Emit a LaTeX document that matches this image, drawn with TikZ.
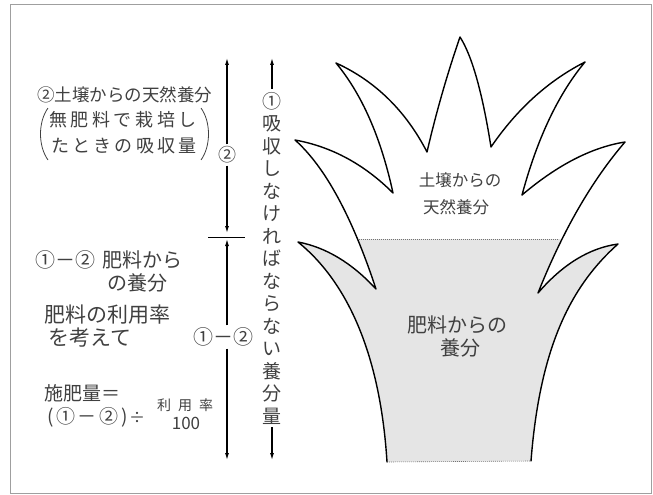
\documentclass[tikz,border=0pt]{standalone}
\usepackage{fontspec}
\newfontfamily\jp{Noto Sans CJK JP}
\usetikzlibrary{arrows.meta}
\newcommand\jpf[1]{\jp\fontsize{#1}{#1}\selectfont}
\begin{document}
\begin{tikzpicture}[x=1pt,y=-1pt,
  txt/.style={text=black!75, inner sep=0pt},
  dimline/.style={line width=1.1pt, black, -{Latex[length=7pt,width=4pt]}},
  leaf/.style={line width=1.4pt, line join=round, line cap=round},
  edge/.style={black!55, line width=0.6pt, dash pattern=on 1pt off 1pt},
  frame/.style={gray!75, line width=1pt}]
\useasboundingbox (0,0) rectangle (653,495);
\draw[frame] (10,5) rectangle (651,493);

% ---------- plant outline ----------
\path[save path=\plant]
  (387,462) .. controls (380,350) and (345,280) .. (298,242)
  .. controls (326,247.3) and (352,263) .. (376,289)
  .. controls (352,216.3) and (325,166.7) .. (295,140)
  .. controls (331.7,146.7) and (364.3,164.3) .. (393,193)
  .. controls (381,137.7) and (362,94.3) .. (336,63)
  .. controls (375.3,81) and (405.7,110.7) .. (427,152)
  .. controls (436.3,112) and (447.3,73.7) .. (460,37)
  .. controls (472,55.7) and (482.3,92.3) .. (491,147)
  .. controls (517,109) and (548.3,80.7) .. (585,62)
  .. controls (558.3,94) and (537.3,138.3) .. (522,195)
  .. controls (557.3,165) and (591.7,147.3) .. (625,142)
  .. controls (591.7,180.7) and (562.7,231) .. (538,293)
  .. controls (562.7,264.3) and (589.3,248) .. (618,244)
  .. controls (572,285) and (540,345) .. (531,461);

% fertilizer part: stippled lower region
\begin{scope}
  \clip (0,239) rectangle (653,495);
  \fill[black!10, use path=\plant];
\end{scope}
\coordinate (shL) at (357,239);
\coordinate (shR) at (559,239);
\coordinate (baseL) at (387,462);
\coordinate (baseR) at (531,461);
\draw[edge] (shL) -- (shR);
\draw[edge] (baseL) -- (baseR);
\draw[leaf, use path=\plant];

% labels inside the plant
\node[txt, font=\jpf{16.5}] (soil1) at (460,180) {土壌からの};
\node[txt, font=\jpf{16.5}] (soil2) at (456,207) {天然養分};
\node[txt, font=\jpf{20}] (fert1) at (457,325) {肥料からの};
\node[txt, font=\jpf{20}] (fert2) at (460,348) {養分};

% ---------- dimension arrows ----------
\coordinate (a2top) at (227,58);
\coordinate (a2bot) at (227,233);
\node[txt, font=\jpf{18}, inner sep=2pt, fill=white] (l2) at (227,155) {②};
\draw[dimline] (l2) -- (a2top);
\draw[dimline] (l2) -- (a2bot);

\coordinate (tickL) at (208,237);
\coordinate (tickR) at (245,237);
\draw[line width=1pt] (tickL) -- (tickR);

\coordinate (a3top) at (227,239);
\coordinate (a3bot) at (227,460);
\node[txt, font=\jpf{20}, inner sep=2pt] (l3) at (223,337) {①－②};
\draw[dimline] (l3.north -| a3top) -- (a3top);
\draw[dimline] (l3.south -| a3bot) -- (a3bot);

\coordinate (a1top) at (272,58);
\coordinate (a1bot) at (272,460);
\node[txt, font={\jp\fontsize{19}{22.5}\selectfont}, align=center, inner sep=3pt] (v1) at (272,258)
  {①\\吸\\収\\し\\な\\け\\れ\\ば\\な\\ら\\な\\い\\養\\分\\量};
\draw[dimline] (v1.north) -- (a1top);
\draw[dimline] (v1.south) -- (a1bot);

% ---------- left-hand notes ----------
\node[txt, font=\jpf{17.5}] (n1) at (124.5,95) {②土壌からの天然養分};
\node[txt, font=\jpf{18}] (n2) at (123,120) {\makebox[148pt]{無\hfill 肥\hfill 料\hfill で\hfill 栽\hfill 培\hfill し}};
\node[txt, font=\jpf{18}] (n3) at (124,146) {\makebox[146pt]{た\hfill と\hfill き\hfill の\hfill 吸\hfill 収\hfill 量}};
\coordinate (pl1) at (48,108);
\coordinate (pl2) at (48,160);
\coordinate (pr1) at (201,108);
\coordinate (pr2) at (201,160);
\draw[black!75, line width=0.8pt] (pl1) .. controls (38,122) and (38,146) .. (pl2);
\draw[black!75, line width=0.8pt] (pr1) .. controls (211,122) and (211,146) .. (pr2);

\node[txt, font=\jpf{20}, anchor=west] (n4) at (35,260) {①－②\hspace{7pt}肥料から};
\node[txt, font=\jpf{20}, anchor=west] (n5) at (107,283) {の養分};
\node[txt, font=\jpf{21}, anchor=west] (n6) at (44,315) {肥料の利用率};
\node[txt, font=\jpf{21}, anchor=west] (n7) at (48,338) {を考えて};
\node[txt, font=\jpf{19}, anchor=west] (n8) at (44,393) {施肥量＝};
\node[txt, font=\jpf{19}] (n9) at (87.5,417) {\makebox[81pt]{(\hfill ①\hfill －\hfill ②\hfill )}};
\node[txt, font=\jpf{16}] (div) at (137,418) {÷};
\node[txt, font=\jpf{14}] (num) at (185,405) {\makebox[56pt]{利\hfill 用\hfill 率}};
\node[txt, font=\jpf{17}] (den) at (186,423) {100};
\end{tikzpicture}
\end{document}
